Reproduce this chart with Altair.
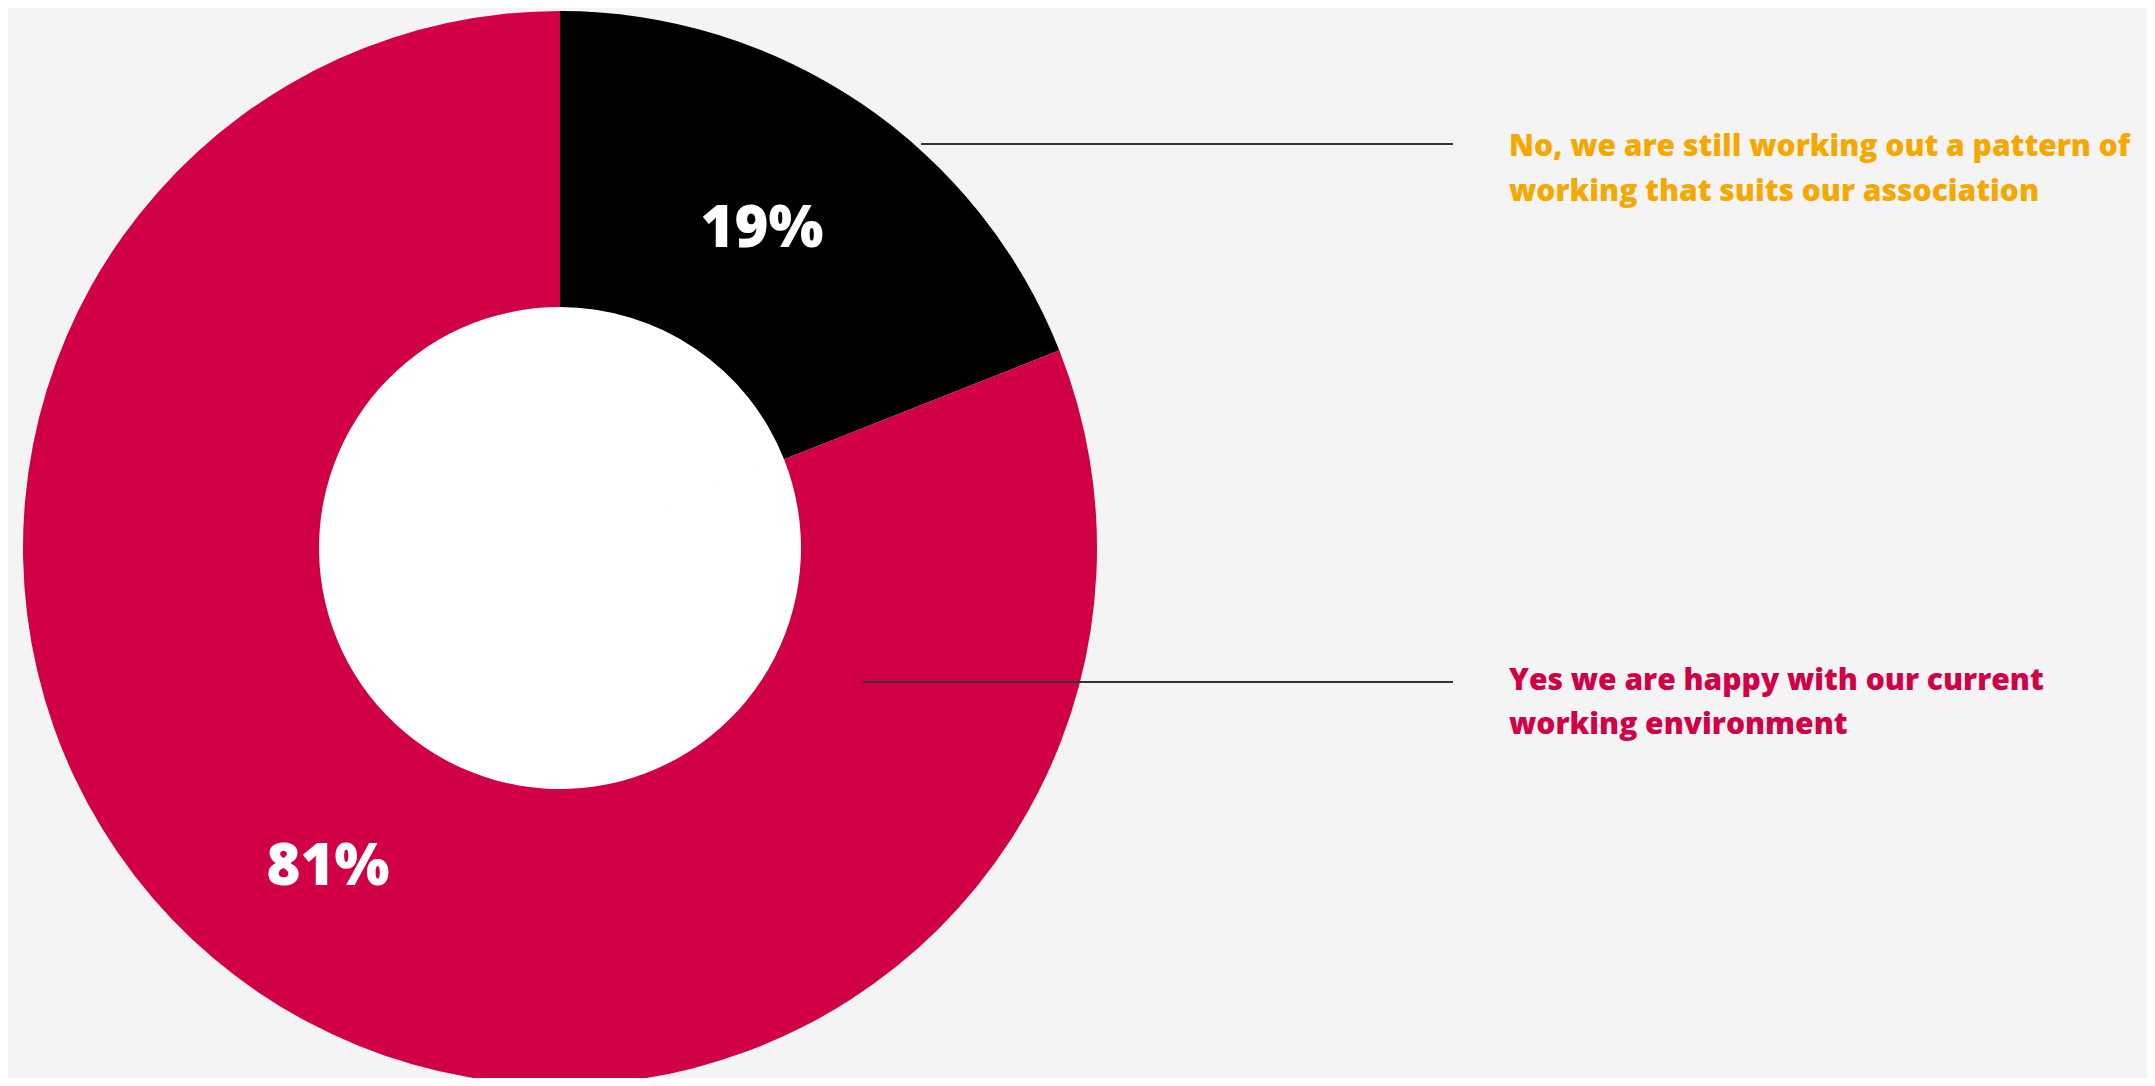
import altair as alt
import pandas as pd

categories = ["No", "Yes"]
values = [19, 81]
pct_labels = ["19%", "81%"]
order = [1, 2]
label_lines_no = ["No, we are still working out a pattern of", "working that suits our association"]
label_lines_yes = ["Yes we are happy with our current", "working environment"]

colors = ["#000000", "#D10046"]
label_colors = ["#F5A800", "#D10046"]
BG = "#F4F4F4"
FONT = "Open Sans"

df = pd.DataFrame({"category": categories, "value": values, "pct": pct_labels, "order": order})

CX, CY = 552, 540

base = alt.Chart(df).encode(
    theta=alt.Theta("value:Q", stack=True),
    order=alt.Order("order:Q"),
)

hole = base.mark_arc(radius=243, color="white", stroke=None).encode(
    x=alt.value(CX), y=alt.value(CY))

donut = base.mark_arc(radius=537, radius2=241, stroke=None).encode(
    x=alt.value(CX), y=alt.value(CY),
    color=alt.Color("category:N", scale=alt.Scale(domain=categories, range=colors), legend=None),
)

pct = base.mark_text(
    font=FONT, fontWeight=800, fontSize=58, color="white",
    align="center", baseline="middle", dx=-15, dy=1).encode(
    x=alt.value(CX), y=alt.value(CY), radius=alt.value(386),
    text="pct:N",
)

lead1 = alt.Chart(df).mark_rule(color="#333333", strokeWidth=2).encode(
    x=alt.value(913), x2=alt.value(1445), y=alt.value(136))
lead2 = alt.Chart(df).mark_rule(color="#333333", strokeWidth=2).encode(
    x=alt.value(855), x2=alt.value(1445), y=alt.value(674))

lab1 = alt.Chart(df).transform_filter(alt.datum.category == "No").mark_text(
    font=FONT, fontWeight=800, fontSize=30, align="left", baseline="alphabetic",
    lineHeight=45, color=label_colors[0]).encode(
    x=alt.value(1501), y=alt.value(148), text=alt.value(label_lines_no))
lab2 = alt.Chart(df).transform_filter(alt.datum.category == "Yes").mark_text(
    font=FONT, fontWeight=800, fontSize=30, align="left", baseline="alphabetic",
    lineHeight=44, color=label_colors[1]).encode(
    x=alt.value(1501), y=alt.value(682), text=alt.value(label_lines_yes))

chart = alt.layer(hole, donut, pct, lead1, lead2, lab1, lab2).properties(
    width=2139, height=1070, background=BG, padding=0,
    autosize=alt.AutoSizeParams(type="none"),
).configure_view(stroke=None)

chart.save("out.html", embed_options={"renderer": "svg", "actions": False})
